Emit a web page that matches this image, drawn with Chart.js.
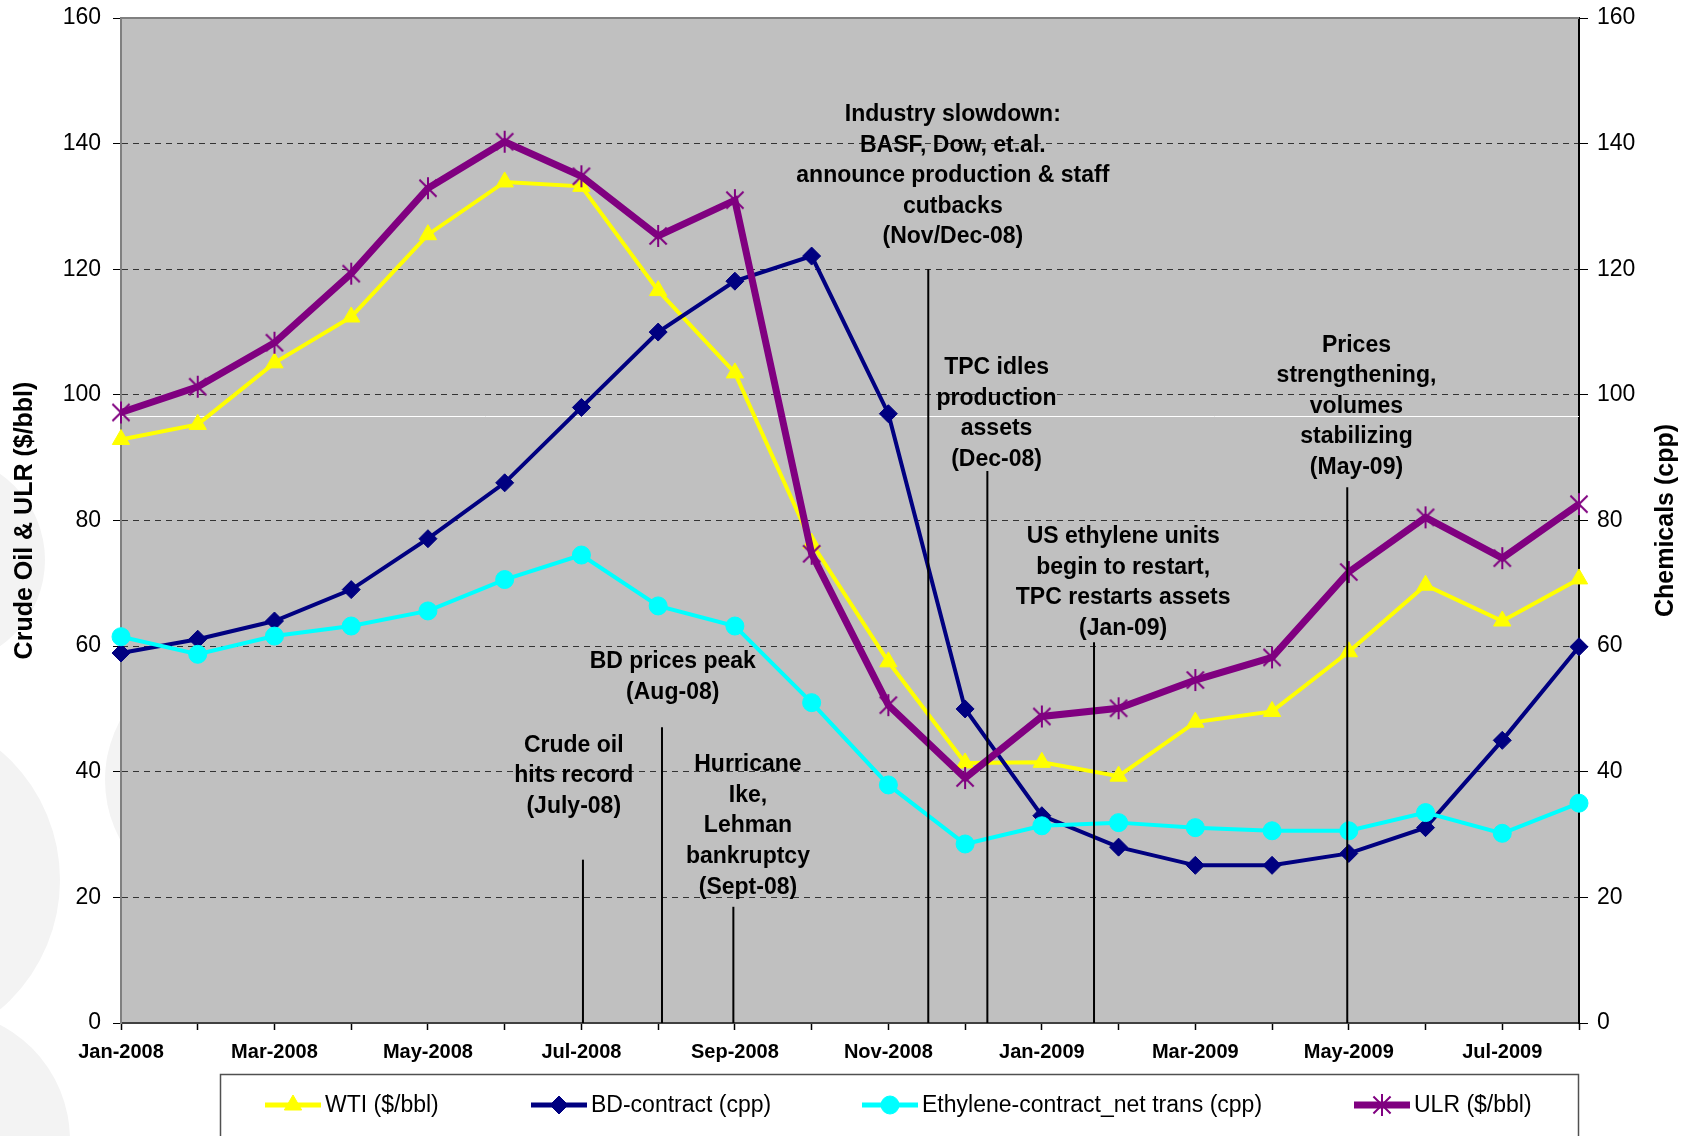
<!DOCTYPE html>
<html>
<head>
<meta charset="utf-8">
<script src="https://cdn.jsdelivr.net/npm/chart.js@4.4.0/dist/chart.umd.min.js"></script>
<style>
	html, body { margin: 0; padding: 0; background: #fff; overflow: hidden; }
	#wrap { position: relative; width: 1690px; height: 1136px; overflow: hidden; }
	.blob { position: absolute; border-radius: 50%; background: #f3f3f3; }
	canvas { position: absolute; left: 0; top: 0; }
</style>
</head>
<body>
<div id="wrap">
	<div class="blob" style="left:-165px;top:455px;width:210px;height:210px"></div>
	<div class="blob" style="left:-280px;top:710px;width:340px;height:340px"></div>
	<div class="blob" style="left:-190px;top:1010px;width:260px;height:260px"></div>
	<div class="blob" style="left:105px;top:655px;width:250px;height:250px"></div>
	<canvas id="oilChart" width="1690" height="1136"></canvas>
</div>
<script>
// data
const months = ["Jan-2008", "Feb-2008", "Mar-2008", "Apr-2008", "May-2008", "Jun-2008", "Jul-2008",
	"Aug-2008", "Sep-2008", "Oct-2008", "Nov-2008", "Dec-2008", "Jan-2009", "Feb-2009", "Mar-2009",
	"Apr-2009", "May-2009", "Jun-2009", "Jul-2009", "Aug-2009"];
const wtiValues = [92.9, 95.3, 105.1, 112.4, 125.5, 133.9, 133.2, 116.6, 103.5, 76.4,
	57.5, 41.4, 41.5, 39.3, 47.9, 49.6, 59.1, 69.7, 64.0, 70.7];
const bdValues = [58.9, 61.1, 64.0, 69.0, 77.1, 86.0, 98.0, 110.0, 118.1, 122.1,
	97.0, 50.0, 33.0, 28.0, 25.1, 25.1, 27.0, 31.1, 45.0, 59.9];
const ethyleneValues = [61.5, 58.7, 61.6, 63.2, 65.6, 70.6, 74.5, 66.4, 63.2, 51.0,
	37.9, 28.5, 31.4, 31.9, 31.1, 30.6, 30.6, 33.5, 30.2, 35.0];
const ulrValues = [97.2, 101.3, 108.3, 119.3, 132.9, 140.3, 134.8, 125.3, 131.0, 74.7,
	50.6, 39.0, 48.8, 50.1, 54.6, 58.2, 71.8, 80.5, 74.0, 82.6];
const axisMin = 0;
const axisMax = 160;
const axisStep = 20;

// event markers: [month index, top value]
const eventLines = [[6.02, 26.0], [7.05, 47.1], [7.98, 18.5], [10.52, 120.0], [11.29, 87.9], [12.68, 60.6], [15.98, 85.3]];
// notes: month index, value of first line, lines
const eventNotes = [
	{ x: 10.84, y: 144.6, lines: ["Industry slowdown:", "BASF, Dow, et.al.", "announce production & staff", "cutbacks", "(Nov/Dec-08)"] },
	{ x: 11.41, y: 104.3, lines: ["TPC idles", "production", "assets", "(Dec-08)"] },
	{ x: 13.06, y: 77.4, lines: ["US ethylene units", "begin to restart,", "TPC restarts assets", "(Jan-09)"] },
	{ x: 16.10, y: 107.9, lines: ["Prices", "strengthening,", "volumes", "stabilizing", "(May-09)"] },
	{ x: 7.19, y: 57.5, lines: ["BD prices peak", "(Aug-08)"] },
	{ x: 5.90, y: 44.2, lines: ["Crude oil", "hits record", "(July-08)"] },
	{ x: 8.17, y: 41.1, lines: ["Hurricane", "Ike,", "Lehman", "bankruptcy", "(Sept-08)"] },
];
const whiteLineValue = 96.6;

const fontFamily = "'Liberation Sans', Arial, Helvetica, sans-serif";

function makeAsterisk(size, color) {
	const c = document.createElement("canvas");
	c.width = size;
	c.height = size;
	const g = c.getContext("2d");
	const m = size / 2;
	const r = size / 2 - 1;
	const d = r * 0.78;
	g.strokeStyle = color;
	g.lineWidth = 2;
	g.beginPath();
	g.moveTo(m, m - r);
	g.lineTo(m, m + r);
	g.moveTo(m - d, m - d);
	g.lineTo(m + d, m + d);
	g.moveTo(m + d, m - d);
	g.lineTo(m - d, m + d);
	g.stroke();
	return c;
}
const asterisk = makeAsterisk(24, "#800080");

// plot background, frame, notes, legend
const decorPlugin = {
	id: "decor",
	beforeDraw(chart) {
		const { ctx, chartArea } = chart;
		ctx.save();
		ctx.fillStyle = "#C0C0C0";
		ctx.fillRect(chartArea.left, chartArea.top, chartArea.right - chartArea.left, chartArea.bottom - chartArea.top);
		ctx.restore();
	},
	beforeDatasetsDraw(chart) {
		const { ctx, chartArea, scales } = chart;
		ctx.save();
		ctx.strokeStyle = "#808080";
		ctx.lineWidth = 2;
		ctx.beginPath();
		ctx.moveTo(chartArea.left, chartArea.top);
		ctx.lineTo(chartArea.right, chartArea.top);
		ctx.stroke();
		const wy = Math.round(scales.y.getPixelForValue(whiteLineValue)) + 0.5;
		ctx.strokeStyle = "#ffffff";
		ctx.lineWidth = 1;
		ctx.beginPath();
		ctx.moveTo(chartArea.left, wy);
		ctx.lineTo(chartArea.right, wy);
		ctx.stroke();
		ctx.restore();
	},
	afterDatasetsDraw(chart) {
		const { ctx, scales } = chart;
		ctx.save();
		ctx.strokeStyle = "#000";
		ctx.lineWidth = 2;
		eventLines.forEach(([ix, top]) => {
			const x = scales.x.getPixelForValue(ix);
			ctx.beginPath();
			ctx.moveTo(x, scales.y.getPixelForValue(top));
			ctx.lineTo(x, scales.y.getPixelForValue(0));
			ctx.stroke();
		});
		ctx.fillStyle = "#000";
		ctx.font = "bold 23px " + fontFamily;
		ctx.textAlign = "center";
		ctx.textBaseline = "middle";
		eventNotes.forEach((note) => {
			const x = scales.x.getPixelForValue(note.x);
			const y0 = scales.y.getPixelForValue(note.y);
			note.lines.forEach((line, i) => {
				ctx.fillText(line, x, y0 + i * 30.6);
			});
		});
		ctx.restore();
	},
	afterDraw(chart) {
		const { ctx, chartArea } = chart;
		ctx.save();
		// right axis title, reads bottom to top
		ctx.translate(1666, (chartArea.top + chartArea.bottom) / 2);
		ctx.rotate(-Math.PI / 2);
		ctx.fillStyle = "#000";
		ctx.font = "bold 25px " + fontFamily;
		ctx.textAlign = "center";
		ctx.textBaseline = "middle";
		ctx.fillText("Chemicals (cpp)", 0, 0);
		ctx.restore();

		ctx.save();
		ctx.strokeStyle = "#505050";
		ctx.lineWidth = 1.5;
		ctx.strokeRect(220.5, 1074.5, 1358, 120);
		const legendX = [265, 531, 862, 1354];
		const ly = 1105;
		chart.data.datasets.forEach((ds, i) => {
			const x0 = legendX[i];
			ctx.strokeStyle = ds.borderColor;
			ctx.fillStyle = ds.backgroundColor;
			ctx.lineWidth = ds.legendLineWidth;
			ctx.beginPath();
			ctx.moveTo(x0, ly);
			ctx.lineTo(x0 + 56, ly);
			ctx.stroke();
			ctx.lineWidth = 1;
			Chart.helpers.drawPoint(ctx, {
				pointStyle: ds.pointStyle,
				radius: ds.pointRadius,
				rotation: 0,
				borderWidth: 1,
			}, x0 + 28, ly);
			ctx.fillStyle = "#000";
			ctx.font = "23px " + fontFamily;
			ctx.textAlign = "left";
			ctx.textBaseline = "middle";
			ctx.fillText(ds.label, x0 + 60, ly + 1);
		});
		ctx.restore();
	},
};

const gridColor = (c) => (c.tick && (c.tick.value === axisMin || c.tick.value === axisMax)) ? "rgba(0,0,0,0)" : "#333333";

const oilChart = new Chart(document.getElementById("oilChart"), {
	type: "line",
	data: {
		labels: months,
		datasets: [
			{
				label: "WTI ($/bbl)",
				data: wtiValues,
				borderColor: "#FFFF00",
				backgroundColor: "#FFFF00",
				borderWidth: 4,
				legendLineWidth: 5,
				pointStyle: "triangle",
				pointRadius: 10,
				pointBorderWidth: 1,
				order: 4,
			},
			{
				label: "BD-contract (cpp)",
				data: bdValues,
				borderColor: "#000080",
				backgroundColor: "#000080",
				borderWidth: 4,
				legendLineWidth: 5,
				pointStyle: "rectRot",
				pointRadius: 9,
				pointBorderWidth: 1,
				order: 3,
			},
			{
				label: "Ethylene-contract_net trans (cpp)",
				data: ethyleneValues,
				borderColor: "#00FFFF",
				backgroundColor: "#00FFFF",
				borderWidth: 4,
				legendLineWidth: 5,
				pointStyle: "circle",
				pointRadius: 9,
				pointBorderWidth: 1,
				yAxisID: "y2",
				order: 2,
			},
			{
				label: "ULR ($/bbl)",
				data: ulrValues,
				borderColor: "#800080",
				backgroundColor: "#800080",
				borderWidth: 7,
				legendLineWidth: 7,
				pointStyle: asterisk,
				pointRadius: 11,
				pointBorderWidth: 0,
				order: 1,
			},
		],
	},
	options: {
		responsive: false,
		animation: false,
		events: [],
		clip: false,
		elements: { line: { tension: 0 } },
		layout: { padding: { top: 18, left: 0, right: 0, bottom: 0 } },
		plugins: {
			legend: { display: false },
			tooltip: { enabled: false },
		},
		scales: {
			x: {
				type: "category",
				offset: false,
				grid: { drawOnChartArea: false, drawTicks: true, tickLength: 7, tickColor: "#000", tickWidth: 1.5, offset: false },
				border: { color: "#404040", width: 2 },
				ticks: {
					autoSkip: false,
					maxRotation: 0,
					minRotation: 0,
					padding: 10,
					color: "#000",
					font: { family: fontFamily, size: 20, weight: "bold" },
					callback: function (v, i) {
						return i % 2 === 0 ? this.getLabelForValue(v) : "";
					},
				},
				afterFit: (s) => { s.height = 113; },
			},
			y: {
				position: "left",
				min: axisMin,
				max: axisMax,
				ticks: { stepSize: axisStep, padding: 12, color: "#000", font: { family: fontFamily, size: 23, lineHeight: 0.4 } },
				grid: { color: gridColor, lineWidth: 1, tickColor: "#000", tickLength: 8, tickWidth: 1 },
				border: { color: "#808080", width: 2, dash: [6, 5] },
				title: {
					display: true,
					text: "Crude Oil & ULR ($/bbl)",
					color: "#000",
					font: { family: fontFamily, size: 25, weight: "bold" },
					padding: { top: 10, bottom: 0 },
				},
				afterFit: (s) => { s.width = 121; },
			},
			y2: {
				position: "right",
				min: axisMin,
				max: axisMax,
				ticks: { stepSize: axisStep, padding: 9, color: "#000", font: { family: fontFamily, size: 23, lineHeight: 0.4 } },
				grid: { drawOnChartArea: false, tickColor: "#000", tickLength: 9, tickWidth: 1 },
				border: { color: "#000", width: 2 },
				afterFit: (s) => { s.width = 111; },
			},
		},
	},
	plugins: [decorPlugin],
});
</script>
</body>
</html>
